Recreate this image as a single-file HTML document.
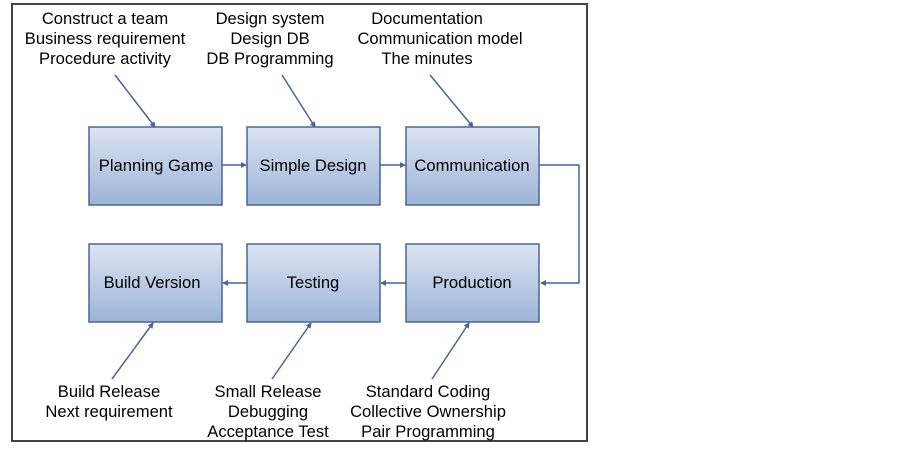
<!DOCTYPE html>
<html><head><style>
html,body{margin:0;padding:0;background:#fff;}
svg{display:block;}
text{font-family:"Liberation Sans",Arial,sans-serif;font-size:16.6px;fill:#000;text-anchor:middle;}
</style></head><body>
<svg width="903" height="449" viewBox="0 0 903 449" xmlns="http://www.w3.org/2000/svg">
<defs>
<linearGradient id="g" x1="0" y1="0" x2="0" y2="1">
<stop offset="0" stop-color="#dbe4f2"/><stop offset="1" stop-color="#9db4d8"/>
</linearGradient>
<marker id="a" markerWidth="6" markerHeight="6" refX="5" refY="3" orient="auto" markerUnits="userSpaceOnUse">
<path d="M0,0 L6,3 L0,6 z" fill="#4a6596"/>
</marker>
</defs>
<rect x="12" y="4" width="575" height="437" fill="#fff" stroke="#444" stroke-width="2"/>
<g fill="url(#g)" stroke="#4a6596" stroke-width="1.5">
<rect x="89" y="127" width="133" height="78"/>
<rect x="247" y="127" width="133" height="78"/>
<rect x="406" y="127" width="133" height="78"/>
<rect x="89" y="244" width="133" height="78"/>
<rect x="247" y="244" width="133" height="78"/>
<rect x="406" y="244" width="133" height="78"/>
</g>
<g stroke="#4a6596" stroke-width="1.5" fill="none" marker-end="url(#a)">
<line x1="222" y1="165" x2="246" y2="165"/>
<line x1="380" y1="165" x2="405" y2="165"/>
<polyline points="539,165 579,165 579,283 541,283"/>
<line x1="406" y1="283" x2="381" y2="283"/>
<line x1="247" y1="283" x2="223" y2="283"/>
<line x1="115" y1="75" x2="155" y2="127"/>
<line x1="282" y1="75" x2="315" y2="127"/>
<line x1="430" y1="75" x2="473" y2="127"/>
<line x1="112" y1="379" x2="153" y2="323"/>
<line x1="272" y1="379" x2="311" y2="323"/>
<line x1="432" y1="379" x2="469" y2="323"/>
</g>
<text x="156" y="171">Planning Game</text>
<text x="313" y="171">Simple Design</text>
<text x="472" y="171">Communication</text>
<text x="152" y="288">Build Version</text>
<text x="313" y="288">Testing</text>
<text x="472" y="288">Production</text>
<text x="105" y="24">Construct a team</text>
<text x="105" y="44">Business requirement</text>
<text x="105" y="64">Procedure activity</text>
<text x="270" y="24">Design system</text>
<text x="270" y="44">Design DB</text>
<text x="270" y="64">DB Programming</text>
<text x="427" y="24">Documentation</text>
<text x="440" y="44">Communication model</text>
<text x="427" y="64">The minutes</text>
<text x="109" y="397">Build Release</text>
<text x="109" y="417">Next requirement</text>
<text x="268" y="397">Small Release</text>
<text x="268" y="417">Debugging</text>
<text x="268" y="437">Acceptance Test</text>
<text x="428" y="397">Standard Coding</text>
<text x="428" y="417">Collective Ownership</text>
<text x="428" y="437">Pair Programming</text>
</svg>
</body></html>
